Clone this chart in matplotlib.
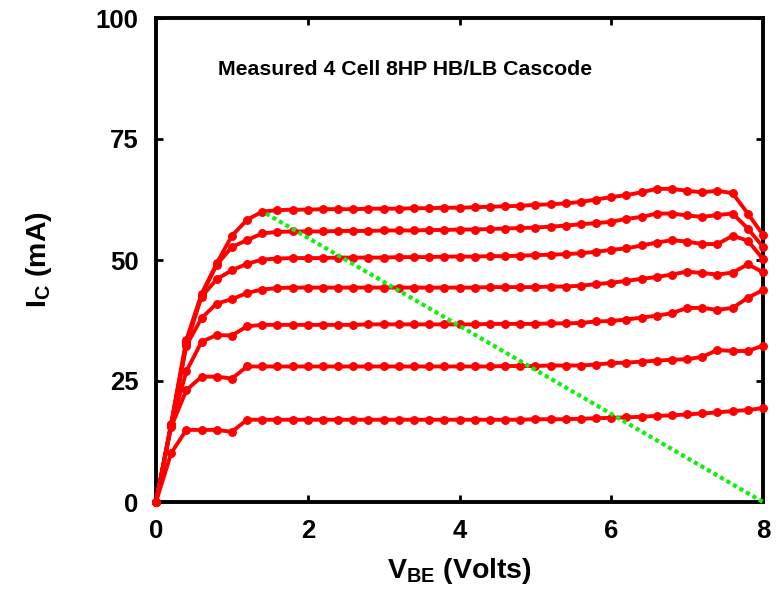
import matplotlib
matplotlib.use("Agg")
import matplotlib.pyplot as plt

plt.rcParams['font.family'] = ['Liberation Sans', 'DejaVu Sans']
plt.rcParams['font.weight'] = 'bold'
plt.rcParams['mathtext.fontset'] = 'custom'
plt.rcParams['mathtext.rm'] = 'Liberation Sans:bold'
plt.rcParams['mathtext.it'] = 'Liberation Sans:bold'
plt.rcParams['mathtext.bf'] = 'Liberation Sans:bold'

# ---------------- data ----------------
vbe = [0.0, 0.2, 0.4, 0.6, 0.8, 1.0, 1.2, 1.4, 1.6, 1.8,
       2.0, 2.2, 2.4, 2.6, 2.8, 3.0, 3.2, 3.4, 3.6, 3.8,
       4.0, 4.2, 4.4, 4.6, 4.8, 5.0, 5.2, 5.4, 5.6, 5.8,
       6.0, 6.2, 6.4, 6.6, 6.8, 7.0, 7.2, 7.4, 7.6, 7.8,
       8.0]

ic_1 = [0.0, 10.1, 14.9, 14.9, 14.9, 14.5, 17.0, 17.0, 17.0, 17.0,
        17.0, 17.0, 17.0, 17.0, 17.0, 17.0, 17.0, 17.0, 17.0, 17.0,
        17.0, 17.0, 17.0, 17.0, 17.0, 17.1, 17.1, 17.1, 17.2, 17.3,
        17.4, 17.5, 17.6, 17.8, 17.9, 18.1, 18.3, 18.5, 18.8, 19.0,
        19.4]
ic_2 = [0.0, 15.5, 23.1, 25.9, 25.9, 25.5, 28.0, 28.0, 28.0, 28.0,
        28.0, 28.0, 28.0, 28.0, 28.0, 28.0, 28.0, 28.0, 28.0, 28.0,
        28.0, 28.0, 28.0, 28.1, 28.1, 28.1, 28.2, 28.2, 28.2, 28.4,
        28.7, 28.8, 29.0, 29.2, 29.4, 29.5, 30.0, 31.4, 31.2, 31.2,
        32.3]
ic_3 = [0.0, 15.8, 27.0, 33.1, 34.5, 34.4, 36.3, 36.6, 36.6, 36.6,
        36.6, 36.6, 36.6, 36.6, 36.7, 36.7, 36.7, 36.7, 36.7, 36.7,
        36.7, 36.7, 36.8, 36.8, 36.8, 36.8, 36.9, 36.9, 37.0, 37.3,
        37.4, 37.7, 38.1, 38.5, 39.0, 40.1, 40.1, 39.7, 40.1, 42.2,
        43.8]
ic_4 = [0.0, 16.0, 32.3, 38.0, 41.0, 41.9, 43.2, 43.9, 44.2, 44.3,
        44.3, 44.3, 44.3, 44.3, 44.3, 44.3, 44.3, 44.3, 44.3, 44.3,
        44.3, 44.3, 44.4, 44.4, 44.4, 44.4, 44.5, 44.5, 44.7, 45.0,
        45.3, 45.7, 46.1, 46.5, 47.0, 47.6, 47.3, 47.0, 47.4, 49.1,
        47.5]
ic_5 = [0.0, 16.0, 32.6, 42.4, 46.0, 47.9, 49.2, 50.1, 50.3, 50.4,
        50.4, 50.4, 50.5, 50.5, 50.5, 50.5, 50.6, 50.6, 50.6, 50.7,
        50.7, 50.7, 50.8, 50.8, 50.9, 51.0, 51.1, 51.2, 51.4, 51.7,
        52.1, 52.4, 53.0, 53.6, 54.1, 53.8, 53.3, 53.3, 55.0, 54.0,
        50.2]
ic_6 = [0.0, 16.0, 33.0, 42.7, 49.0, 52.7, 54.1, 55.5, 55.8, 55.9,
        55.9, 55.9, 56.0, 56.0, 56.0, 56.1, 56.1, 56.1, 56.2, 56.2,
        56.3, 56.3, 56.4, 56.5, 56.6, 56.7, 56.9, 57.1, 57.4, 57.6,
        57.9, 58.5, 58.9, 59.6, 59.6, 59.2, 58.9, 59.3, 59.6, 56.5,
        52.7]
ic_7 = [0.0, 16.2, 33.5, 43.0, 49.3, 55.0, 58.3, 60.0, 60.3, 60.4,
        60.4, 60.5, 60.5, 60.5, 60.6, 60.6, 60.6, 60.7, 60.7, 60.8,
        60.8, 60.9, 61.0, 61.1, 61.2, 61.4, 61.5, 61.7, 62.0, 62.5,
        63.0, 63.4, 64.0, 64.7, 64.7, 64.3, 64.0, 64.3, 63.8, 59.6,
        55.2]

load_v = [1.45, 8.0]
load_i = [59.6, 0.0]

title_text = "Measured 4 Cell 8HP HB/LB Cascode"
x_ticks = [0, 2, 4, 6, 8]
y_ticks = [0, 25, 50, 75, 100]

# ---------------- figure ----------------
fig = plt.figure(figsize=(7.82, 5.94), dpi=100)
ax = fig.add_axes([156 / 782, 1 - 502 / 594, (763 - 156) / 782, (502 - 18) / 594])

for ic in [ic_1, ic_2, ic_3, ic_4, ic_5, ic_6, ic_7]:
    ax.plot(vbe, ic, color='#ff0000', lw=2.8, marker='o', ms=5.4,
            mec='#ff0000', mfc='#ff0000', zorder=3, clip_on=False)

ax.plot(load_v, load_i, color='#11ee11', lw=3.0, linestyle=(0, (1.0, 0.8)),
        zorder=4, clip_on=False)

ax.set_xlim(0, 8)
ax.set_ylim(0, 100)
ax.set_xticks(x_ticks)
ax.set_yticks(y_ticks)
ax.set_xticklabels([str(t) for t in x_ticks])
ax.set_yticklabels([str(t) for t in y_ticks])

ax.tick_params(axis='both', direction='in', length=5, width=2,
               top=True, right=True, labelsize=18.5, pad=12.5)
for lab in ax.get_xticklabels() + ax.get_yticklabels():
    lab.set_fontweight('bold')

for sp in ax.spines.values():
    sp.set_linewidth(2.8)

ax.set_xlabel(r'V$_{\mathrm{BE}}$ (Volts)', fontsize=20.5, fontweight='bold')
ax.set_ylabel(r'I$_{\mathrm{C}}$ (mA)', fontsize=20.5, fontweight='bold')
ax.xaxis.set_label_coords(0.5, -0.112)
ax.yaxis.set_label_coords(-0.168, 0.5)

ax.text(0.82, 89.3, title_text, fontsize=15.3, fontweight='bold',
        ha='left', va='center')

fig.savefig('out.png', dpi=100)
